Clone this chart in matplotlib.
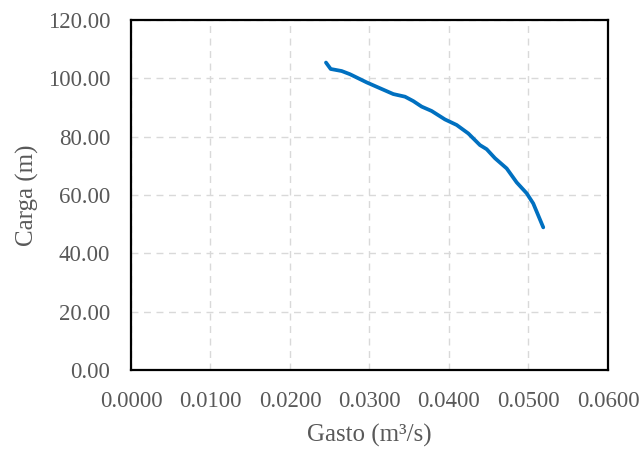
import matplotlib.pyplot as plt
from matplotlib.ticker import FormatStrFormatter

plt.rcParams['font.family'] = ['Liberation Serif', 'DejaVu Serif']

gasto = [0.02453, 0.02512, 0.0265, 0.02755, 0.02965, 0.03132, 0.0330, 0.03447,
         0.03551, 0.03656, 0.03782, 0.0395, 0.04097, 0.04243, 0.0439, 0.04474,
         0.04579, 0.04726, 0.04852, 0.04977, 0.0506, 0.05186]
carga = [105.4, 103.2, 102.5, 101.4, 98.6, 96.6, 94.6, 93.7,
         92.2, 90.3, 88.8, 85.9, 84.0, 81.1, 77.1, 75.7,
         72.6, 69.1, 64.3, 60.6, 57.1, 48.9]

fig = plt.figure(figsize=(6.42, 4.54), dpi=100)
ax = fig.add_axes([0.204, 0.185, 0.743, 0.771])

ax.plot(gasto, carga, color="#0070C0", linewidth=2.7, solid_capstyle='round')

ax.set_xlim(0, 0.06)
ax.set_ylim(0, 120)
ax.set_xticks([0.0, 0.01, 0.02, 0.03, 0.04, 0.05, 0.06])
ax.set_yticks([0, 20, 40, 60, 80, 100, 120])
ax.xaxis.set_major_formatter(FormatStrFormatter('%.4f'))
ax.yaxis.set_major_formatter(FormatStrFormatter('%.2f'))

ax.grid(True, color="#D9D9D9", linestyle=(0, (5, 4)), linewidth=1.0)
ax.tick_params(length=0, labelsize=16.5, labelcolor="#595959")
ax.tick_params(axis='y', pad=15)
ax.tick_params(axis='x', pad=15)
for s in ax.spines.values():
    s.set_linewidth(1.6)
    s.set_color("black")

ax.set_xlabel("Gasto (m³/s)", fontsize=18, color="#595959", labelpad=9)
ax.set_ylabel("Carga (m)", fontsize=18, color="#595959", labelpad=6)

fig.savefig("out.png", dpi=100)
